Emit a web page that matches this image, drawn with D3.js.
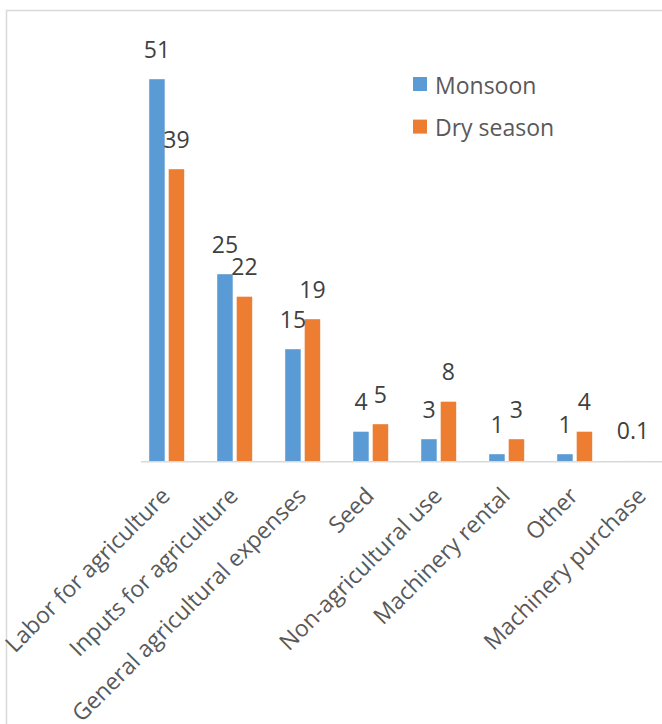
<!DOCTYPE html>
<html>
<head>
<meta charset="utf-8">
<script src="https://cdn.jsdelivr.net/npm/d3@7"></script>
<style>
  html, body { margin: 0; padding: 0; background: #fff; }
  svg { display: block; }
  text { font-family: "Open Sans", "Liberation Sans", sans-serif; }
</style>
</head>
<body>
<div id="chart"></div>
<script>
const categories = [
  "Labor for agriculture",
  "Inputs for agriculture",
  "General agricultural expenses",
  "Seed",
  "Non-agricultural use",
  "Machinery rental",
  "Other",
  "Machinery purchase"
];
const seriesNames = ["Monsoon", "Dry season"];
const monsoon = [51, 25, 15, 4, 3, 1, 1, 0.1];
const drySeason = [39, 22, 19, 5, 8, 3, 4, null];
const colors = ["#5B9BD5", "#ED7D31"];

const W = 662, H = 724;
const svg = d3.select("#chart").append("svg").attr("width", W).attr("height", H);

// chart border (cropped)
svg.append("rect")
  .attr("x", 6.5).attr("y", 10.5)
  .attr("width", 720).attr("height", 800)
  .attr("fill", "none").attr("stroke", "#d9d9d9").attr("stroke-width", 1.5);

const baseY = 461.7;
const y = d3.scaleLinear().domain([0, 60]).range([baseY, 11.7]);
const x0 = d3.scaleBand().domain(categories).range([132.7, 676.7]).padding(0);
const x1 = d3.scaleBand().domain(seriesNames).range([-17.5, 17.5]).paddingInner(0.205).paddingOuter(0);

const rows = categories.map((c, i) => ({
  cat: c,
  vals: [
    {s: seriesNames[0], v: monsoon[i], k: 0},
    {s: seriesNames[1], v: drySeason[i], k: 1}
  ]
}));

const g = svg.selectAll("g.cat").data(rows).join("g")
  .attr("class", "cat")
  .attr("transform", d => `translate(${x0(d.cat) + x0.bandwidth() / 2},0)`);

g.selectAll("rect").data(d => d.vals.filter(v => v.v != null)).join("rect")
  .attr("x", d => x1(d.s))
  .attr("width", x1.bandwidth())
  .attr("y", d => y(d.v))
  .attr("height", d => baseY - y(d.v))
  .attr("fill", d => colors[d.k]);

g.selectAll("text.val").data(d => d.vals.filter(v => v.v != null)).join("text")
  .attr("class", "val")
  .attr("x", d => x1(d.s) + x1.bandwidth() / 2)
  .attr("y", d => y(d.v) - 21.5)
  .attr("text-anchor", "middle")
  .attr("font-size", 23)
  .attr("fill", "#404040")
  .text(d => d.v);

// baseline axis
svg.append("line")
  .attr("x1", 141).attr("x2", 677)
  .attr("y1", baseY).attr("y2", baseY)
  .attr("stroke", "#d9d9d9").attr("stroke-width", 1.5);

// category labels rotated
svg.selectAll("text.cat").data(categories).join("text")
  .attr("class", "cat")
  .attr("transform", d => `translate(${x0(d) + x0.bandwidth() / 2 - 1},${baseY + 30}) rotate(-45)`)
  .attr("text-anchor", "end")
  .attr("dy", "0.35em")
  .attr("font-size", 23)
  .attr("fill", "#595959")
  .text(d => d);

// legend
const legend = svg.append("g").attr("transform", "translate(413,77)");
seriesNames.forEach((s, i) => {
  const lg = legend.append("g").attr("transform", `translate(0,${i * 42.6})`);
  lg.append("rect").attr("width", 14).attr("height", 14).attr("fill", colors[i]);
  lg.append("text").attr("x", 22).attr("y", 16.5)
    .attr("font-size", 23).attr("fill", "#595959").text(s);
});
</script>
</body>
</html>
